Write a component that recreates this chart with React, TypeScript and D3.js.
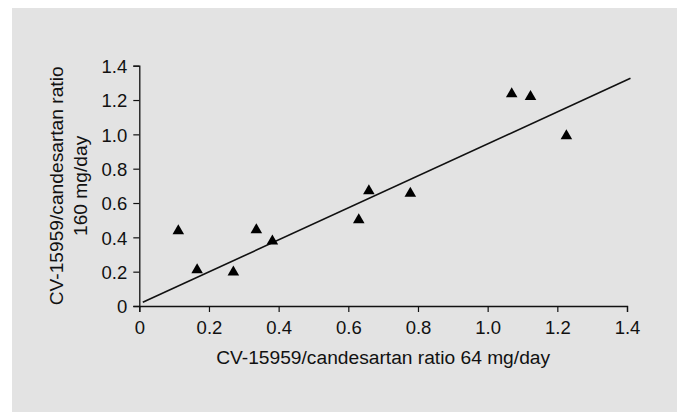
import { useEffect, useRef } from "react";
import * as d3 from "d3";

// values
const ratio64 = [0.112, 0.166, 0.27, 0.336, 0.382, 0.63, 0.659, 0.778, 1.069, 1.123, 1.226];
const ratio160 = [0.44, 0.213, 0.2, 0.446, 0.38, 0.504, 0.674, 0.659, 1.238, 1.223, 0.994];
const fitX = [0.01, 1.41];
const fitY = [0.0215, 1.327];
const xTicks = [0, 0.2, 0.4, 0.6, 0.8, 1.0, 1.2, 1.4];
const yTicks = [0, 0.2, 0.4, 0.6, 0.8, 1.0, 1.2, 1.4];
const xTitle = "CV-15959/candesartan ratio 64 mg/day";
const yTitle = ["CV-15959/candesartan ratio", "160 mg/day"];

export default function App() {
    const ref = useRef<SVGSVGElement>(null);

    var W = 682, H = 412;
    var margin = { top: 65.7, right: 55, bottom: 106, left: 139.3 },
        width = 487.7,
        height = H - margin.top - margin.bottom;

    useEffect(() => {
        const svg = d3.select(ref.current);
        svg.selectAll("*").remove();

        const font = "'Liberation Sans', Arial, sans-serif";
        const ink = "#111";

        svg.append("rect")
            .attr("x", 12).attr("y", 8)
            .attr("width", 665).attr("height", H - 8)
            .attr("fill", "#e3e3e3");

        let x = d3.scaleLinear().domain([0, 1.4]).range([0, width]);
        let y = d3.scaleLinear().domain([0, 1.4]).range([height, 0]);

        const fmt = (d: any) => (d === 0 ? "0" : d3.format(".1f")(d));

        const g = svg.append("g")
            .attr("transform", "translate(" + margin.left + "," + margin.top + ")");

        const yAxis = g.append("g")
            .call(d3.axisLeft(y).tickValues(yTicks).tickFormat(fmt).tickSizeOuter(0).tickSize(6).tickPadding(6));
        const xAxis = g.append("g")
            .attr("transform", "translate(0," + height + ")")
            .call(d3.axisBottom(x).tickValues(xTicks).tickFormat(fmt).tickSizeOuter(0).tickSize(6).tickPadding(9));

        [yAxis, xAxis].forEach(a => {
            a.attr("font-size", null).attr("font-family", null);
            a.select(".domain").attr("stroke", ink).attr("stroke-width", 1.3);
            a.selectAll(".tick line").attr("stroke", ink).attr("stroke-width", 1.2);
            a.selectAll(".tick text")
                .attr("fill", ink)
                .style("font-family", font)
                .style("font-size", "18.5px");
        });
        yAxis.selectAll(".tick text").attr("dy", "0.36em");
        xAxis.selectAll(".tick text").attr("dy", "0.72em");

        // fitted line
        const line = d3.line<number>().x(d => x(d)).y((d, i) => y(fitY[i]));
        g.append("path")
            .datum(fitX)
            .attr("fill", "none")
            .attr("stroke", ink)
            .attr("stroke-width", 1.6)
            .attr("d", line);

        // triangles
        const tri = d3.symbol().type(d3.symbolTriangle).size(58);
        g.selectAll(".pt")
            .data(ratio64)
            .enter()
            .append("path")
            .attr("class", "pt")
            .attr("transform", (d, i) => "translate(" + x(d) + "," + (y(ratio160[i]) + 0.5) + ")")
            .attr("d", tri)
            .attr("fill", "#000");

        // titles
        svg.append("text")
            .attr("x", margin.left + width / 2)
            .attr("y", 364)
            .attr("text-anchor", "middle")
            .attr("fill", ink)
            .style("font-family", font)
            .style("font-size", "19.2px")
            .text(xTitle);

        const yt = svg.append("text")
            .attr("transform", "translate(63," + (margin.top + height / 2) + ") rotate(-90)")
            .attr("text-anchor", "middle")
            .attr("fill", ink)
            .style("font-family", font)
            .style("font-size", "19.2px");
        yTitle.forEach((t, i) => {
            yt.append("tspan").attr("x", 0).attr("y", i * 24).text(t);
        });
    }, []);

    return (
        <div style={{ position: "fixed", left: 0, top: 0, background: "#fff" }}>
            <svg ref={ref} width={W} height={H} style={{ display: "block" }} />
        </div>
    );
}
